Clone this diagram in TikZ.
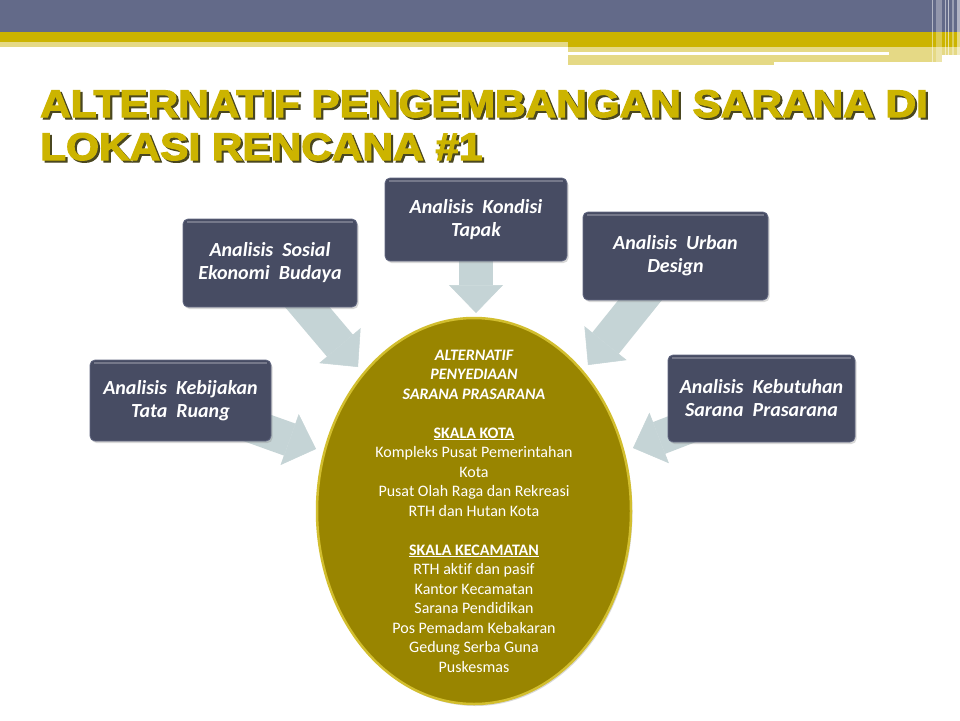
\documentclass[tikz,border=0pt]{standalone}
\usepackage{fontspec}
\setmainfont{Carlito}[Ligatures=NoCommon]
\newfontfamily\titlefont[FakeBold=3]{Liberation Sans Bold}
\usetikzlibrary{
  arrows.meta,
  shapes.geometric,
  shadows,
  backgrounds
}

\definecolor{slate}{HTML}{636A89}
\definecolor{gold}{HTML}{CCB400}
\definecolor{palegold}{HTML}{E5D985}
\definecolor{boxfill}{HTML}{474C63}
\definecolor{boxline}{HTML}{626882}
\definecolor{olive}{HTML}{998500}
\definecolor{olivelight}{HTML}{D2BE2E}
\definecolor{arrowgray}{HTML}{C5D4D6}
\definecolor{tshadow}{HTML}{4A4720}

\newcommand\shadowed[1]{\scalebox{1.1}[1]{\makebox[0pt][l]{\hspace{2pt}\raisebox{-2pt}{\color{tshadow}#1}}#1}}

\tikzset{
  headline/.style={inner sep=0pt, text=gold, anchor=base west,
    font=\titlefont\fontsize{38.5}{40}\selectfont},
  analysis/.style={rounded corners=5pt, fill=boxfill, draw=boxline, line width=.8pt,
    text=white, align=center, inner sep=0pt,
    font=\fontsize{20}{23}\selectfont\bfseries\itshape,
    drop shadow={shadow xshift=1.5pt, shadow yshift=-2pt, opacity=.3},
    path picture={\draw[white, opacity=.25, line width=2pt]
      ([xshift=4pt,yshift=-3pt]path picture bounding box.north west) --
      ([xshift=-4pt,yshift=-3pt]path picture bounding box.north east);}},
  flow/.style={draw=arrowgray, line width=34pt,
    -{Triangle[width=54pt, length=28pt, line width=.5pt]}}
}

\begin{document}
\begin{tikzpicture}[x=1pt, y=-1pt]
\useasboundingbox (0,0) rectangle (960,720);
\begin{scope}[on background layer]
\fill[white] (0,0) rectangle (960,720);
\end{scope}

% header bars
\fill[slate] (0,0) rectangle (960,32);
\fill[gold] (0,32) rectangle (960,42);
\fill[gold] (568,42) rectangle (960,47);
\fill[palegold] (0,42) rectangle (568,47);
\fill[palegold] (568,47) rectangle (960,55);
\fill[white] (568,52) rectangle (889,55);
\fill[palegold] (568,55) rectangle (774,65);
\fill[palegold] (774,55) rectangle (942,62);
\foreach \x/\w/\o in {932/1/.5, 936/6/.3, 945/1/.5, 948/1/.6, 952/2/.35, 957/3/.5}
  \fill[white, opacity=\o] (\x,0) rectangle (\x+\w,64);

% title
\node[headline] (title1) at (40,117) {\shadowed{ALTERNATIF PENGEMBANGAN SARANA DI}};
\node[headline] (title2) at (40,160) {\shadowed{LOKASI RENCANA \#1}};

% analysis boxes
\node[analysis, minimum width=174pt, minimum height=88pt] (sosial) at (270,263)
  {Analisis~ Sosial\\Ekonomi~ Budaya};
\node[analysis, minimum width=181pt, minimum height=81pt] (kebijakan) at (180.5,400.5)
  {Analisis~ Kebijakan\\Tata~ Ruang};
\node[analysis, minimum width=182pt, minimum height=83pt] (kondisi) at (476,219.5)
  {Analisis~ Kondisi\\Tapak};
\node[analysis, minimum width=185pt, minimum height=88pt] (urban) at (675.5,256)
  {Analisis~ Urban\\Design};
\node[analysis, minimum width=187pt, minimum height=87pt] (kebutuhan) at (761.5,398.5)
  {Analisis~ Kebutuhan\\Sarana~ Prasarana};

% central ellipse
\node[ellipse, minimum width=314pt, minimum height=386pt, inner sep=0pt,
  fill=olive, draw=olivelight, line width=2.5pt,
  drop shadow={shadow xshift=1.5pt, shadow yshift=-2pt, opacity=.3}] (alternatif) at (474,511) {};
\node[text=white, align=center, font=\fontsize{16}{19.5}\selectfont] (daftar) at (alternatif.center)
  {{\bfseries\itshape ALTERNATIF}\\
   {\bfseries\itshape PENYEDIAAN}\\
   {\bfseries\itshape SARANA PRASARANA}\\[19.5pt]
   \underline{\bfseries SKALA KOTA}\\
   Kompleks Pusat Pemerintahan\\
   Kota\\
   Pusat Olah Raga dan Rekreasi\\
   RTH dan Hutan Kota\\[19.5pt]
   \underline{\bfseries SKALA KECAMATAN}\\
   RTH aktif dan pasif\\
   Kantor Kecamatan\\
   Sarana Pendidikan\\
   Pos Pemadam Kebakaran\\
   Gedung Serba Guna\\
   Puskesmas};

% arrows into the ellipse
\coordinate (tipSosial) at (358,367);
\coordinate (tipKebijakan) at (316,449);
\coordinate (tipKondisi) at (476,313);
\coordinate (tipUrban) at (588,365);
\coordinate (tipKebutuhan) at (633,448);
\begin{scope}[on background layer]
\draw[flow] (sosial.center) -- (tipSosial);
\draw[flow] (kebijakan.center) -- (tipKebijakan);
\draw[flow] (kondisi.center) -- (tipKondisi);
\draw[flow] (urban.center) -- (tipUrban);
\draw[flow] (kebutuhan.center) -- (tipKebutuhan);
\end{scope}
\end{tikzpicture}
\end{document}
